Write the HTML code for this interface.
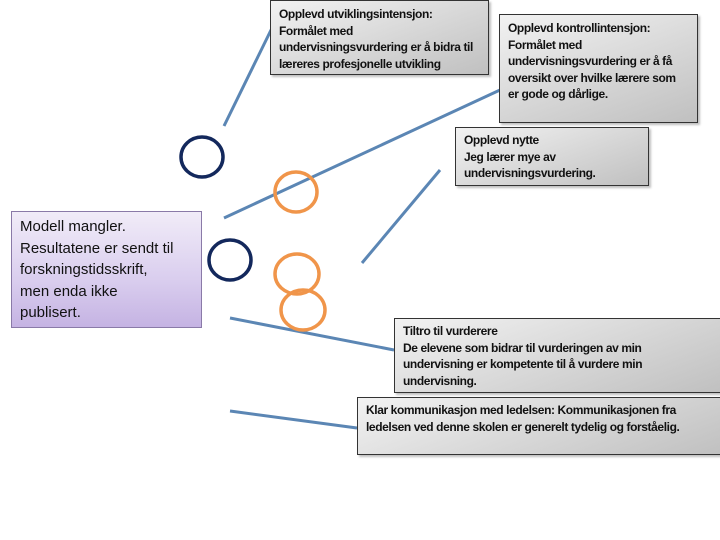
<!DOCTYPE html>
<html><head><meta charset="utf-8"><style>
body{margin:0;width:720px;height:540px;background:#fff;position:relative;overflow:hidden;font-family:"Liberation Sans",sans-serif}
.b{position:absolute;box-sizing:border-box;border:1px solid #333;background:linear-gradient(160deg,#f2f2f2 0%,#d4d4d4 60%,#c0c0c0 100%);box-shadow:2px 2px 2px rgba(0,0,0,.25);font-size:12px;line-height:16.5px;color:#111;padding:4px 8px;letter-spacing:-0.4px;font-weight:bold}
svg{position:absolute;left:0;top:0}
</style></head><body>
<svg width="720" height="540">
<g stroke="#5b86b4" stroke-width="3" fill="none">
<line x1="224" y1="126" x2="272" y2="28"/>
<line x1="224" y1="218" x2="500" y2="90"/>
<line x1="362" y1="263" x2="440" y2="170"/>
<line x1="230" y1="318" x2="394" y2="350"/>
<line x1="230" y1="411" x2="357" y2="428"/>
</g>
<g fill="none" stroke-width="3.5">
<ellipse cx="202" cy="157" rx="21" ry="20" stroke="#13285c"/>
<ellipse cx="230" cy="260" rx="21" ry="20" stroke="#13285c"/>
<ellipse cx="296" cy="192" rx="21" ry="20" stroke="#f0954a"/>
<ellipse cx="297" cy="274" rx="22" ry="20" stroke="#f0954a"/>
<ellipse cx="303" cy="310" rx="22" ry="20" stroke="#f0954a"/>
</g>
</svg>
<div class="b" style="left:270px;top:0;width:219px;height:75px;padding-top:5px">Opplevd utviklingsintensjon:<br>Formålet med<br>undervisningsvurdering er å bidra til<br>læreres profesjonelle utvikling</div>
<div class="b" style="left:499px;top:14px;width:199px;height:109px;padding-top:5px">Opplevd kontrollintensjon:<br>Formålet med<br>undervisningsvurdering er å få<br>oversikt over hvilke lærere som<br>er gode og dårlige.</div>
<div class="b" style="left:455px;top:127px;width:194px;height:59px;padding-top:4px">Opplevd nytte<br>Jeg lærer mye av<br>undervisningsvurdering.</div>
<div class="b" style="left:394px;top:318px;width:330px;height:75px;padding-top:4px">Tiltro til vurderere<br>De elevene som bidrar til vurderingen av min<br>undervisning er kompetente til å vurdere min<br>undervisning.</div>
<div class="b" style="left:357px;top:397px;width:367px;height:58px;padding-top:4px">Klar kommunikasjon med ledelsen: Kommunikasjonen fra<br>ledelsen ved denne skolen er generelt tydelig og forståelig.</div>
<div style="position:absolute;left:11px;top:211px;width:191px;height:117px;box-sizing:border-box;border:1px solid #8a7aa8;background:linear-gradient(180deg,#f1ecf8 0%,#d9cdee 60%,#c5b3e3 100%);font-size:15px;line-height:21.5px;padding:4px 8px;color:#111;white-space:nowrap">Modell mangler.<br>Resultatene er sendt til<br>forskningstidsskrift,<br>men enda ikke<br>publisert.</div>
</body></html>
